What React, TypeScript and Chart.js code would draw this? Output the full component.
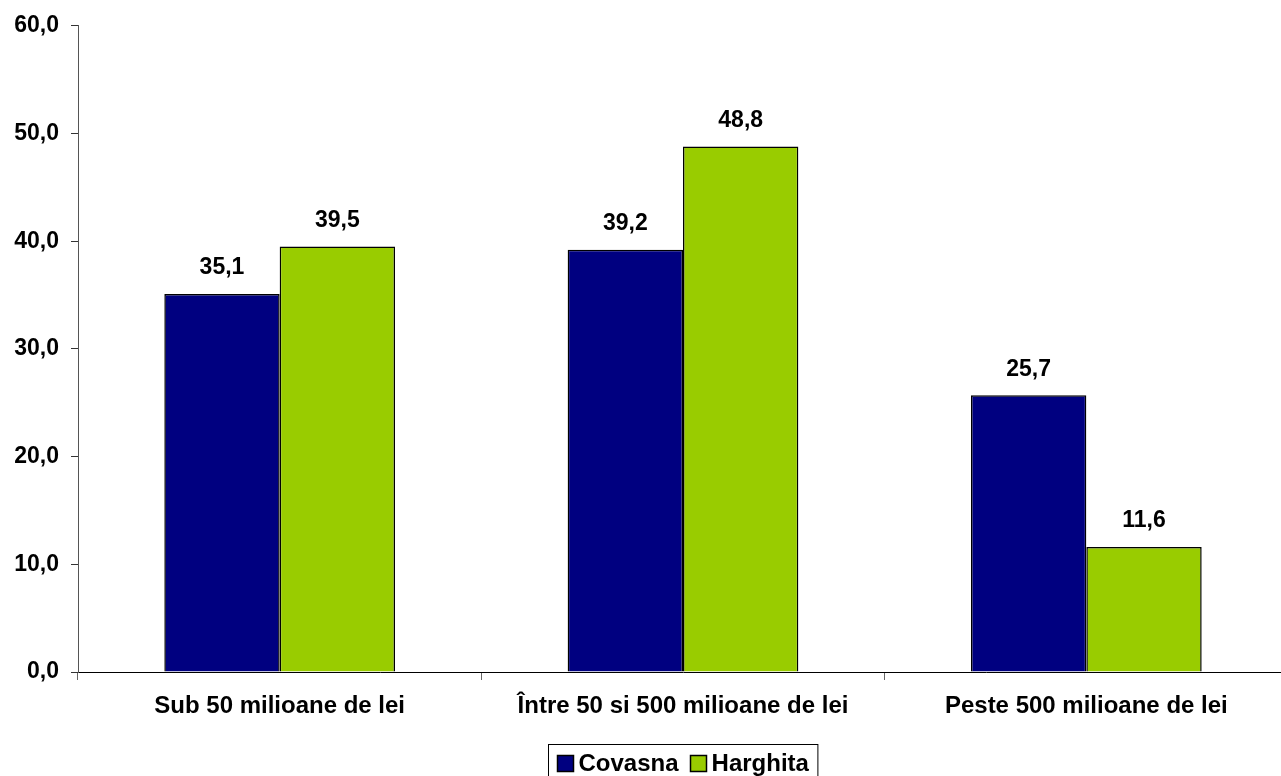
import React, { useEffect, useRef } from "react";
import { Chart, registerables } from "chart.js";

Chart.register(...registerables);

const categories = [
  "Sub 50 milioane de lei",
  "Între 50 si 500 milioane de lei",
  "Peste 500 milioane de lei",
];
const covasna = [35.1, 39.2, 25.7];
const harghita = [39.5, 48.8, 11.6];
const seriesNames = ["Covasna", "Harghita"];
const seriesColors = ["#000080", "#99CC00"];

const FONT = '"Liberation Sans", Arial, sans-serif';
const fmt = (v: number) => v.toFixed(1).replace(".", ",");

const valueLabels = {
  id: "valueLabels",
  afterDatasetsDraw(chart: any) {
    const ctx = chart.ctx;
    ctx.save();
    ctx.font = `bold 23px ${FONT}`;
    ctx.fillStyle = "#000";
    ctx.textAlign = "center";
    ctx.textBaseline = "middle";
    chart.data.datasets.forEach((ds: any, i: number) => {
      const meta = chart.getDatasetMeta(i);
      meta.data.forEach((bar: any, j: number) => {
        ctx.fillText(fmt(ds.data[j]), bar.x, bar.y - 26);
      });
    });
    ctx.restore();
  },
};

const boxedLegend = {
  id: "boxedLegend",
  afterDraw(chart: any) {
    const ctx = chart.ctx;
    const area = chart.chartArea;
    ctx.save();
    ctx.font = `bold 24px ${FONT}`;
    const sq = 17;
    const gapSqText = 5;
    const gapItems = 11;
    const padL = 8;
    const padR = 9;
    const widths = seriesNames.map((n) => ctx.measureText(n).width);
    let total = padL + padR;
    widths.forEach((w, i) => {
      total += sq + gapSqText + w + (i < widths.length - 1 ? gapItems : 0);
    });
    const cx = (area.left + area.right) / 2;
    const left = Math.round(cx - total / 2) + 0.5;
    const top = 744.5;
    ctx.strokeStyle = "#000";
    ctx.lineWidth = 1;
    ctx.fillStyle = "#fff";
    ctx.fillRect(left, top, total, 40);
    ctx.strokeRect(left, top, total, 40);
    let x = left + padL;
    const cy = 763;
    ctx.textBaseline = "middle";
    ctx.textAlign = "left";
    seriesNames.forEach((n, i) => {
      const sx = Math.round(x);
      ctx.fillStyle = seriesColors[i];
      ctx.fillRect(sx, cy - 8, sq, sq);
      ctx.strokeStyle = "#000";
      ctx.lineWidth = 1.5;
      ctx.strokeRect(sx + 0.5, cy - 7.5, sq - 1, sq - 1);
      x += sq + gapSqText;
      ctx.fillStyle = "#000";
      ctx.fillText(n, x, cy + 1);
      x += widths[i] + gapItems;
    });
    ctx.restore();
  },
};

export default function App() {
  const ref = useRef<HTMLCanvasElement>(null);
  useEffect(() => {
    if (!ref.current) return;
    const chart = new Chart(ref.current, {
      type: "bar",
      data: {
        labels: categories,
        datasets: [
          {
            label: seriesNames[0],
            data: covasna,
            backgroundColor: seriesColors[0],
            borderColor: "#000",
            borderWidth: 1.5,
            categoryPercentage: 0.572,
            barPercentage: 1,
          },
          {
            label: seriesNames[1],
            data: harghita,
            backgroundColor: seriesColors[1],
            borderColor: "#000",
            borderWidth: 1.5,
            categoryPercentage: 0.572,
            barPercentage: 1,
          },
        ],
      },
      options: {
        animation: false,
        responsive: false,
        maintainAspectRatio: false,
        layout: { padding: { top: 24, left: 0, right: 2, bottom: 0 } },
        plugins: {
          legend: { display: false },
          tooltip: { enabled: false },
        },
        scales: {
          x: {
            grid: {
              drawOnChartArea: false,
              drawTicks: true,
              tickLength: 8,
              color: "#666",
            },
            border: { color: "#000", width: 1 },
            ticks: {
              color: "#000",
              font: { family: FONT, size: 24, weight: "bold" },
              padding: 12,
              maxRotation: 0,
              autoSkip: false,
            },
            afterFit: (s: any) => {
              s.height = 104;
            },
          },
          y: {
            min: 0,
            max: 60,
            grid: {
              drawOnChartArea: false,
              drawTicks: true,
              tickLength: 7,
              color: "#333",
            },
            border: { color: "#555", width: 1 },
            ticks: {
              stepSize: 10,
              color: "#000",
              padding: 12,
              font: { family: FONT, size: 23, weight: "bold" },
              callback: (v: any) => fmt(Number(v)),
            },
            afterFit: (s: any) => {
              s.width = 78;
            },
          },
        },
      },
      plugins: [valueLabels, boxedLegend],
    });
    return () => chart.destroy();
  }, []);
  return (
    <div
      style={{
        position: "fixed",
        left: 0,
        top: 0,
        width: 1281,
        height: 776,
        overflow: "hidden",
        background: "#fff",
      }}
    >
      <canvas ref={ref} width={1290} height={776} style={{ display: "block" }} />
    </div>
  );
}
